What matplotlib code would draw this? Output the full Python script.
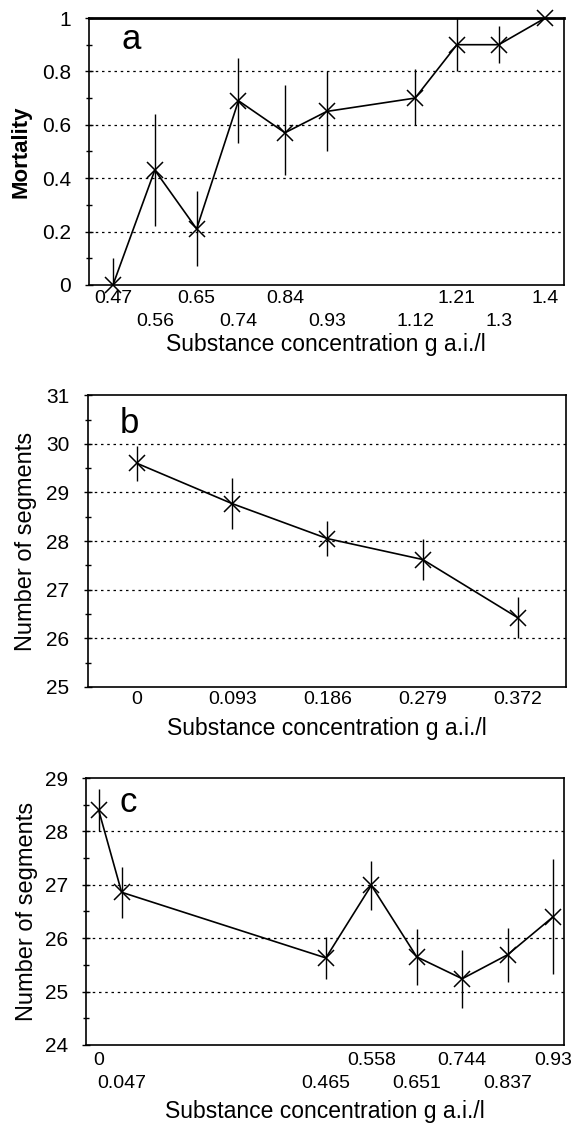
import matplotlib.pyplot as plt
from matplotlib.ticker import MultipleLocator

plt.rcParams['font.family'] = ['Liberation Sans', 'DejaVu Sans']

# panel a - mortality
conc_a = [0.47, 0.56, 0.65, 0.74, 0.84, 0.93, 1.12, 1.21, 1.3, 1.4]
mort_a = [0.0, 0.43, 0.21, 0.69, 0.57, 0.65, 0.70, 0.90, 0.90, 1.0]
err_lo_a = [0.0, 0.21, 0.14, 0.16, 0.16, 0.15, 0.10, 0.10, 0.07, 0.0]
err_hi_a = [0.1, 0.21, 0.14, 0.16, 0.18, 0.15, 0.11, 0.12, 0.07, 0.0]
row2_a = [0.56, 0.74, 0.93, 1.12, 1.3]

# panel b - number of segments
conc_b = [0, 0.093, 0.186, 0.279, 0.372]
seg_b = [29.6, 28.77, 28.05, 27.62, 26.42]
err_b = [0.36, 0.52, 0.36, 0.43, 0.42]

# panel c - number of segments
conc_c = [0, 0.047, 0.465, 0.558, 0.651, 0.744, 0.837, 0.93]
seg_c = [28.40, 26.86, 25.63, 26.99, 25.65, 25.24, 25.69, 26.40]
err_c = [0.40, 0.48, 0.39, 0.46, 0.52, 0.54, 0.51, 1.08]
row2_c = [0.047, 0.465, 0.651, 0.837]

xlab = 'Substance concentration g a.i./l'


def fmt(v):
    return f'{v:g}'


def style(ax, grid, minor, ypad=10):
    ax.set_yticks(grid)
    ax.yaxis.set_minor_locator(MultipleLocator(minor))
    for g in grid[1:-1]:
        ax.axhline(g, color='black', lw=0.9, ls=(0, (2, 3)), zorder=1)
    ax.tick_params(axis='y', direction='inout', length=6, width=1, labelsize=15, pad=ypad)
    ax.tick_params(axis='y', which='minor', direction='inout', length=4, width=1)
    ax.tick_params(axis='x', which='both', length=0, labelsize=14)
    for s in ax.spines.values():
        s.set_linewidth(1.2)


def xlabels(ax, x, row2, pad1, pad2):
    top = [v for v in x if v not in row2]
    ax.set_xticks(top)
    ax.set_xticklabels([fmt(v) for v in top])
    if row2:
        ax.set_xticks(row2, minor=True)
        ax.set_xticklabels([fmt(v) for v in row2], minor=True)
    ax.tick_params(axis='x', which='major', pad=pad1)
    ax.tick_params(axis='x', which='minor', pad=pad2)


def draw(ax, x, y, lo, hi):
    ax.errorbar(x, y, yerr=[lo, hi], fmt='none', ecolor='black', elinewidth=1, capsize=0, zorder=2)
    ax.plot(x, y, color='black', lw=1.2, marker='x', ms=12, mew=1.1, zorder=3, clip_on=False)


fig = plt.figure(figsize=(5.73, 11.26), dpi=100)

# a
ax1 = fig.add_axes([0.155, 0.747, 0.829, 0.237])
draw(ax1, conc_a, mort_a, err_lo_a, err_hi_a)
ax1.set_xlim(0.418, 1.44)
ax1.set_ylim(0, 1)
style(ax1, [0, 0.2, 0.4, 0.6, 0.8, 1], 0.1)
ax1.set_yticklabels(['0', '0.2', '0.4', '0.6', '0.8', '1'])
xlabels(ax1, conc_a, row2_a, 4, 20)
ax1.spines['top'].set_linewidth(2)
ax1.set_ylabel('Mortality', fontsize=16, fontweight='bold')
ax1.yaxis.set_label_coords(-0.12, 0.5)
ax1.set_xlabel(xlab, fontsize=16.5)
ax1.xaxis.set_label_coords(0.5, -0.18)
ax1.text(0.09, 0.918, 'a', transform=ax1.transAxes, fontsize=25, ha='center', va='center')

# b
ax2 = fig.add_axes([0.153, 0.390, 0.835, 0.259])
draw(ax2, conc_b, seg_b, err_b, err_b)
ax2.set_xlim(-0.048, 0.419)
ax2.set_ylim(25, 31)
style(ax2, [25, 26, 27, 28, 29, 30, 31], 0.5)
xlabels(ax2, conc_b, [], 3, 3)
ax2.set_ylabel('Number of segments', fontsize=17)
ax2.yaxis.set_label_coords(-0.105, 0.5)
ax2.set_xlabel(xlab, fontsize=16.5)
ax2.xaxis.set_label_coords(0.5, -0.105)
ax2.text(0.0875, 0.904, 'b', transform=ax2.transAxes, fontsize=25, ha='center', va='center')

# c
ax3 = fig.add_axes([0.150, 0.072, 0.834, 0.237])
draw(ax3, conc_c, seg_c, err_c, err_c)
ax3.set_xlim(-0.026, 0.952)
ax3.set_ylim(24, 29)
style(ax3, [24, 25, 26, 27, 28, 29], 0.5)
xlabels(ax3, conc_c, row2_c, 5, 22)
ax3.set_ylabel('Number of segments', fontsize=17)
ax3.yaxis.set_label_coords(-0.10, 0.5)
ax3.set_xlabel(xlab, fontsize=16.5)
ax3.xaxis.set_label_coords(0.5, -0.205)
ax3.text(0.089, 0.907, 'c', transform=ax3.transAxes, fontsize=25, ha='center', va='center')

fig.savefig('out.png', dpi=100)
